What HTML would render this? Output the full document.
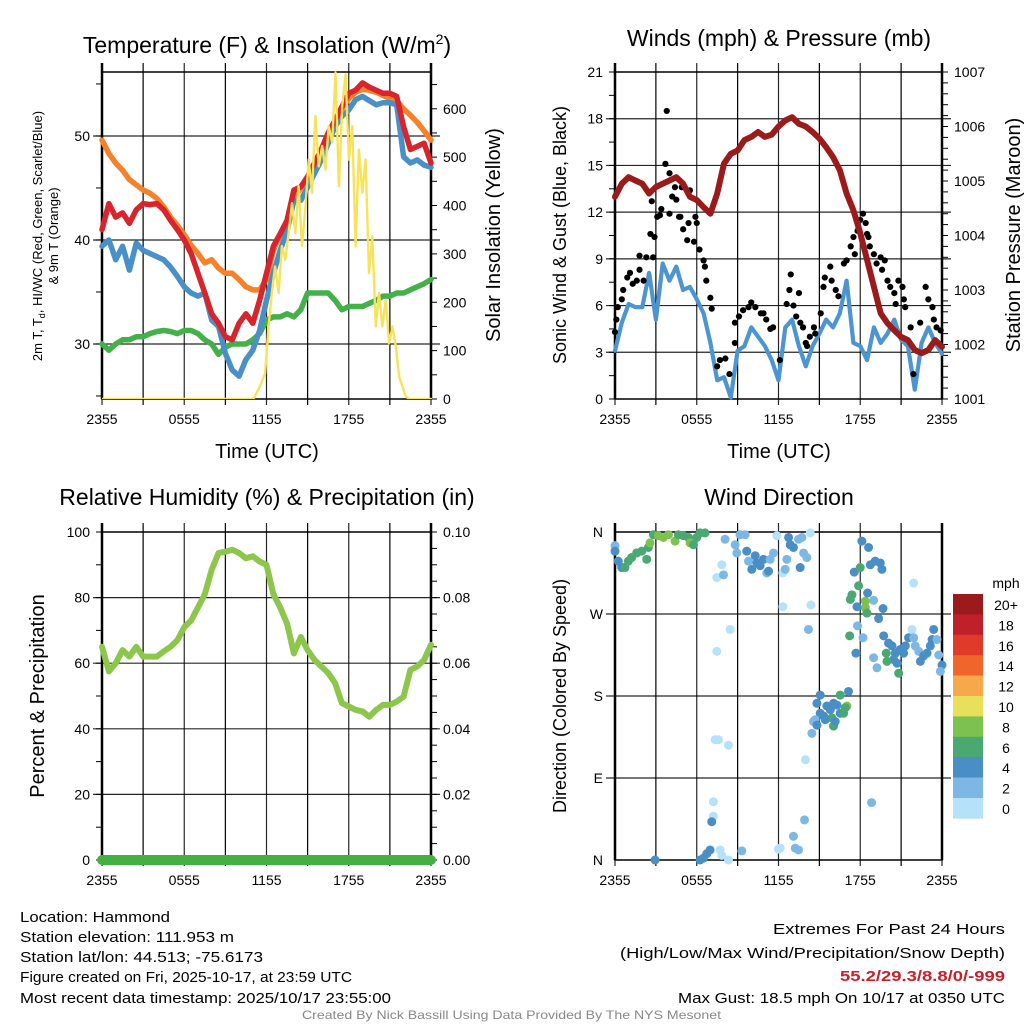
<!DOCTYPE html>
<html><head><meta charset="utf-8"><title>Hammond Meteogram</title>
<style>
html,body{margin:0;padding:0;background:#fff;}
svg{display:block;font-family:"Liberation Sans",Arial,sans-serif;}
</style></head>
<body>
<svg id="chart" xmlns="http://www.w3.org/2000/svg" width="1024" height="1024" viewBox="0 0 1024 1024">
<rect x="0" y="0" width="1024" height="1024" fill="#fff"/>
<text x="267" y="53" font-size="23" text-anchor="middle">Temperature (F) &amp; Insolation (W/m<tspan dy="-9" font-size="14">2</tspan><tspan dy="9">)</tspan></text>
<text x="779" y="46" font-size="23" text-anchor="middle">Winds (mph) &amp; Pressure (mb)</text>
<text x="267" y="505" font-size="23" text-anchor="middle">Relative Humidity (%) &amp; Precipitation (in)</text>
<text x="779" y="505" font-size="23" text-anchor="middle">Wind Direction</text>
<text x="267" y="458" font-size="20" text-anchor="middle">Time (UTC)</text>
<text x="779" y="458" font-size="20" text-anchor="middle">Time (UTC)</text>
<text transform="translate(42,236) rotate(-90)" font-size="13" text-anchor="middle">2m T, T<tspan font-size="9" dy="3">d</tspan><tspan dy="-3">, HI/WC (Red, Green, Scarlet/Blue)</tspan></text>
<text transform="translate(58,236) rotate(-90)" font-size="13" text-anchor="middle">&amp; 9m T (Orange)</text>
<text transform="translate(500,235) rotate(-90)" font-size="20" text-anchor="middle">Solar Insolation (Yellow)</text>
<text transform="translate(566,235) rotate(-90)" font-size="18" text-anchor="middle">Sonic Wind &amp; Gust (Blue, Black)</text>
<text transform="translate(1020,235) rotate(-90)" font-size="20" text-anchor="middle">Station Pressure (Maroon)</text>
<text transform="translate(44,696) rotate(-90)" font-size="20" text-anchor="middle">Percent &amp; Precipitation</text>
<text transform="translate(566,696) rotate(-90)" font-size="18" text-anchor="middle">Direction (Colored By Speed)</text>
<text x="1006" y="588" font-size="14" text-anchor="middle">mph</text>
<g font-size="15">
<text x="20" y="922" textLength="150" lengthAdjust="spacingAndGlyphs">Location: Hammond</text>
<text x="20" y="942" textLength="214" lengthAdjust="spacingAndGlyphs">Station elevation: 111.953 m</text>
<text x="20" y="962" textLength="243" lengthAdjust="spacingAndGlyphs">Station lat/lon: 44.513; -75.6173</text>
<text x="20" y="982" textLength="332" lengthAdjust="spacingAndGlyphs">Figure created on Fri, 2025-10-17, at 23:59 UTC</text>
<text x="20" y="1003" textLength="371" lengthAdjust="spacingAndGlyphs">Most recent data timestamp: 2025/10/17 23:55:00</text>
</g>
<g font-size="15">
<text x="773" y="934" textLength="232" lengthAdjust="spacingAndGlyphs">Extremes For Past 24 Hours</text>
<text x="620" y="958" textLength="385" lengthAdjust="spacingAndGlyphs">(High/Low/Max Wind/Precipitation/Snow Depth)</text>
<text x="840" y="981" textLength="165" lengthAdjust="spacingAndGlyphs" fill="#c8202a" font-weight="bold">55.2/29.3/8.8/0/-999</text>
<text x="678" y="1003" textLength="327" lengthAdjust="spacingAndGlyphs">Max Gust: 18.5 mph On 10/17 at 0350 UTC</text>
</g>
<text x="302" y="1019" font-size="12" fill="#888" textLength="419" lengthAdjust="spacingAndGlyphs">Created By Nick Bassill Using Data Provided By The NYS Mesonet</text>
<g id="plots"></g>
</svg>
<script>
const xTickLabels = ["2355","0555","1155","1755","2355"];
const tempOrange = [49.6,48.3,47.4,46.7,45.8,45.3,44.8,44.5,44.0,43.2,42.2,41.4,40.5,39.5,38.7,37.8,38.1,37.3,36.8,36.8,36.2,35.5,35.2,35.2,36.2,39.0,40.5,41.8,44.0,45.0,46.0,47.3,48.6,50.2,51.4,52.6,53.6,54.2,54.5,54.4,54.2,53.9,53.6,53.4,52.6,52.0,51.3,50.5,49.6];
const tempRed = [41.0,43.5,42.2,42.6,41.6,42.9,43.5,43.4,43.5,42.9,41.9,41.0,40.0,38.7,36.8,34.9,32.9,32.0,30.7,30.4,32.0,32.9,32.0,34.2,36.8,39.4,40.6,41.9,44.8,45.1,46.1,47.4,48.7,50.3,51.5,52.8,54.1,54.4,55.1,54.7,54.4,54.1,54.1,53.8,50.9,48.7,49.0,49.3,47.4];
const tempBlue = [39.4,40.0,38.1,39.4,37.1,39.7,39.0,38.7,38.4,38.1,37.4,36.5,35.5,34.9,34.6,34.9,32.3,31.7,29.1,27.5,26.9,28.5,29.4,31.3,34.2,36.8,39.0,40.9,43.8,43.8,45.1,46.4,47.7,49.3,50.9,51.9,52.5,53.5,53.8,53.4,53.0,53.2,53.2,53.0,48.0,47.4,47.7,47.2,47.0];
const dewGreen = [30.0,29.4,30.0,30.4,30.4,30.7,30.7,31.0,31.2,31.3,31.2,31.0,31.3,31.3,31.0,30.4,30.0,29.0,29.7,30.0,30.0,30.0,30.4,31.0,32.3,32.6,32.6,32.9,32.6,33.3,34.9,34.9,34.9,34.9,34.2,33.3,33.6,33.6,33.6,33.9,34.2,34.6,34.6,34.9,34.9,35.2,35.5,35.8,36.2];
const solarHours = [0,11.05,11.5,11.9,12.15,12.39,12.63,12.88,13.12,13.37,13.61,13.86,14.1,14.34,14.59,14.83,15.08,15.32,15.57,15.81,16.06,16.3,16.54,16.79,17.03,17.28,17.52,17.77,18.01,18.26,18.5,18.74,18.99,19.23,19.48,19.72,19.97,20.21,20.45,20.7,20.94,21.19,21.43,21.68,21.92,22.17,22.41,24];
const solarWm2 = [0,0,25,53,150,219,274,219,316,288,343,405,343,440,316,392,495,426,585,481,523,474,564,530,675,440,605,671,495,564,316,516,426,495,260,336,150,219,150,205,115,150,108,46,25,5,0,0];
const windSpeed = [3.1,4.9,6.1,5.9,5.9,8.1,5.1,8.7,7.6,8.5,7.0,7.2,6.4,5.5,3.6,1.2,1.4,0.1,3.1,3.4,4.6,4.0,3.4,2.5,1.2,4.6,5.1,3.4,2.1,3.4,4.2,5.1,4.6,5.5,7.6,3.6,3.4,2.5,4.6,3.6,4.2,5.1,3.8,3.4,0.6,3.6,4.6,3.6,2.9];
const pressureMb = [1004.71,1004.95,1005.07,1005.01,1004.95,1004.77,1004.89,1004.95,1005.01,1005.07,1004.95,1004.71,1004.65,1004.52,1004.40,1004.77,1005.32,1005.50,1005.56,1005.75,1005.81,1005.90,1005.81,1005.85,1006.00,1006.11,1006.17,1006.05,1006.00,1005.90,1005.78,1005.62,1005.44,1005.20,1004.77,1004.46,1004.04,1003.55,1003.06,1002.57,1002.39,1002.26,1002.14,1002.08,1001.90,1001.84,1001.90,1002.08,1001.96];
const gustHours = [0.0,0.1,0.2,0.5,0.6,0.9,1.1,1.3,1.6,1.8,1.8,2.1,2.3,2.6,2.7,2.8,2.9,3.1,3.3,3.4,3.7,3.8,4.0,4.0,4.2,4.4,4.5,4.7,4.8,4.9,5.0,5.3,5.4,5.5,5.8,5.9,6.0,6.2,6.5,6.6,6.7,7.0,7.1,7.5,7.7,8.1,8.4,8.8,8.8,9.1,9.4,9.8,10.0,10.3,10.7,10.9,11.1,11.4,11.6,12.1,12.6,12.8,12.9,13.1,13.3,13.5,13.6,13.8,14.0,14.1,14.3,14.6,14.7,15.1,15.3,15.4,15.8,15.9,16.2,16.4,16.8,17.0,17.3,17.5,17.6,17.8,18.0,18.2,18.4,18.5,18.6,18.7,19.0,19.2,19.5,19.6,19.8,20.0,20.2,20.5,20.6,20.8,21.1,21.2,21.3,21.7,21.9,22.4,22.8,23.0,23.3,23.4,23.6,23.9];
const gustMph = [4.3,5.1,5.9,6.4,7.0,7.8,8.1,7.4,7.6,8.3,9.2,7.6,9.1,10.6,12.7,9.1,10.4,11.7,11.8,12.2,15.1,18.5,14.5,11.9,13.0,13.6,12.8,11.7,11.7,13.6,10.9,10.2,11.3,13.4,10.1,11.7,11.3,9.6,8.9,8.5,7.6,6.5,5.8,2.1,2.5,2.6,1.6,3.6,4.9,5.3,5.7,5.9,6.2,5.9,5.5,5.5,5.1,4.5,4.6,2.5,6.1,7.0,8.0,6.0,5.3,6.8,4.9,4.6,3.6,3.4,4.0,4.6,4.2,5.5,7.2,7.8,8.5,7.6,7.0,6.6,8.7,8.9,9.8,10.4,9.3,10.8,11.5,11.9,11.3,10.6,10.4,9.8,9.3,8.7,9.1,8.3,8.9,7.6,7.2,6.8,6.1,7.6,7.2,6.4,5.9,4.6,1.6,4.9,7.2,6.4,5.9,5.1,4.6,4.4];
const rhPercent = [65,57.5,60,64,62,65,62,62,62,63.6,65,67,71,73,77,81,88.5,93.6,94,94.6,93.6,92,92.6,91,90,81,77,72,63,68,64,61,59,57,54,47.8,46.8,45.8,45.3,43.7,45.8,47.3,47.3,48.3,49.8,58,59,61,65.6];
const precipIn = [0,0,0,0,0,0,0,0,0,0,0,0,0,0,0,0,0,0,0,0,0,0,0,0,0,0,0,0,0,0,0,0,0,0,0,0,0,0,0,0,0,0,0,0,0,0,0,0,0];
const dirHours = [0,0,0.24,0.49,0.73,0.98,1.22,1.59,1.96,2.33,2.45,2.57,2.82,3.18,3.55,3.92,4.41,4.65,5.02,5.39,5.51,5.76,6.0,6.25,6.61,7.47,7.84,7.96,8.08,8.45,7.47,7.35,7.59,8.33,7.22,7.22,7.1,7.71,7.84,8.33,9.31,6.25,6.49,6.74,6.98,2.94,8.82,8.94,9.18,9.55,9.67,9.8,10.04,10.29,10.41,10.65,10.9,11.14,11.27,11.39,11.63,11.88,12.32,12.49,12.61,12.74,12.86,13.1,13.47,13.72,13.84,14.08,13.59,14.33,12.32,14.38,14.2,18.12,18.61,18.74,19.1,19.47,19.59,17.56,18.0,17.88,17.39,17.27,18.37,18.37,18.49,17.76,18.98,18.54,19.67,19.35,17.22,17.8,18.2,17.68,18.98,19.23,19.72,20.08,20.33,20.57,20.45,20.7,20.94,21.18,21.31,21.55,21.8,21.92,22.04,22.29,22.41,22.65,22.9,23.14,23.27,23.39,23.63,23.76,24.0,23.88,19.91,19.96,20.82,21.92,15.06,14.82,15.06,14.7,14.57,14.82,14.45,15.55,15.8,16.04,16.29,16.53,16.78,17.02,16.9,16.53,17.14,15.92,16.04,16.16,15.31,15.43,13.98,18.83,13.91,13.1,13.23,13.47,12.12,12.0];
const dirDegrees = [345,339,328,321,321,328,332,337,339,330,343,348,357,356,354,357,350,357,356,354,348,346,354,359,359,310,324,313,352,253,229,132,132,126,64,48,42,11,5,0,10,0,2,7,11,0,346,337,357,357,339,328,319,334,326,323,330,315,317,330,337,356,315,319,330,354,346,343,352,354,337,332,321,359,278,280,253,350,343,324,328,326,319,316,321,301,291,286,284,277,271,278,285,293,276,265,246,257,244,227,222,211,246,238,235,227,220,216,231,227,235,244,253,244,235,229,218,224,227,235,242,253,242,225,214,207,227,218,205,304,181,172,161,154,152,148,139,169,165,172,170,161,161,169,167,181,185,156,147,152,158,154,110,63,44,26,13,11,13,12];
const dirSpeed = [3,5,5,5,7,7,7,7,7,7,7,9,7,9,9,9,9,7,7,7,9,7,7,7,7,1,1,3,3,1,1,1,1,1,1,1,5,1,1,1,3,5,5,5,5,5,3,3,3,3,5,3,5,5,5,5,5,3,5,3,3,1,1,3,3,5,5,5,3,3,3,3,5,1,1,1,3,5,5,5,5,5,5,5,7,7,7,7,9,9,7,5,3,5,5,5,7,3,3,5,3,3,5,5,5,5,5,5,5,5,5,5,1,3,3,3,5,5,5,5,5,5,3,3,5,3,7,7,7,1,5,5,5,3,3,5,3,5,5,5,5,5,7,9,7,7,5,7,7,5,5,5,1,3,3,3,3,3,1,1];
const speedBins = ["0","2","4","6","8","10","12","14","16","18","20+"];
const speedColors = ["#b5e2f8","#7db8e4","#4a8ec6","#4aa872","#7dc24e","#e8e05a","#f6a84a","#f0652a","#e03a2a","#c0202a","#9b1a1d"];

const NS = "http://www.w3.org/2000/svg";
const root = document.getElementById("plots");
function mk(tag, attrs, parent) {
  const e = document.createElementNS(NS, tag);
  for (const k in attrs) e.setAttribute(k, attrs[k]);
  (parent || root).appendChild(e);
  return e;
}
const halfHours = tempRed.map((v, i) => i * 0.5);
const P1 = {x0:102, x1:431, y0:72, y1:399};
const P2 = {x0:615, x1:942, y0:72, y1:399};
const P3 = {x0:102, x1:431, y0:532, y1:860};
const P4 = {x0:615, x1:942, y0:532, y1:860};
const xScale = P => (t => P.x0 + t / 24 * (P.x1 - P.x0));
const linScale = (P, lo, hi) => (v => P.y1 - (v - lo) / (hi - lo) * (P.y1 - P.y0));
const x1s = xScale(P1), x2s = xScale(P2), x3s = xScale(P3), x4s = xScale(P4);
const yTemp = linScale(P1, 24.71, 56.15);
const ySolar = linScale(P1, 0, 676);
const yWind = linScale(P2, 0, 21);
const yPres = linScale(P2, 1001, 1007);
const yRH = linScale(P3, 0, 100);
const yPrecip = linScale(P3, 0, 0.1);
const yDir = linScale(P4, 0, 360);

function gridAndFrame(P, name, hVals, yFn) {
  const g = mk("g", {});
  
  
  for (let h = 0; h <= 24; h += 3) {
    const x = xScale(P)(h);
    const l = mk("line", {x1:x, x2:x, y1:P.y0 - 9, y2:P.y1 + 6, stroke:"#000", "stroke-width":1.2, "stroke-opacity":(h % 6 === 0 ? 0.85 : 1)}, g);
    
    
  }
  hVals.forEach(v => {
    const y = yFn(v);
    const l = mk("line", {x1:P.x0 - 9, x2:P.x1 + 9, y1:y, y2:y, stroke:"#000", "stroke-width":1.2, "stroke-opacity":0.85}, g);
    
    
  });
  const f = mk("rect", {x:P.x0, y:P.y0, width:P.x1 - P.x0, height:P.y1 - P.y0, fill:"none", stroke:"#000", "stroke-width":1.5}, g);
  
  
  const la = mk("line", {x1:P.x0, x2:P.x0, y1:P.y0 - 9, y2:P.y1, stroke:"#000", "stroke-width":2.5}, g);
  
  
  const ra = mk("line", {x1:P.x1, x2:P.x1, y1:P.y0 - 9, y2:P.y1, stroke:"#000", "stroke-width":2.5}, g);
  
  
}
function minorTicks(P, vals, yFn, side, name) {
  vals.forEach(v => {
    const y = yFn(v);
    const x = side === 'left' ? P.x0 : P.x1;
    const d = side === 'left' ? -6 : 6;
    const t = mk("line", {x1:x, x2:x + d, y1:y, y2:y, stroke:"#000", "stroke-width":1});
    
    
  });
}
function tickLabels(P, vals, labels, yFn, side, name) {
  vals.forEach((v, i) => {
    const y = yFn(v);
    const x = side === 'left' ? P.x0 - 12 : P.x1 + 12;
    const t = mk("text", {x:x, y:y + 5, "font-size":14, "text-anchor":(side === 'left' ? "end" : "start")});
    t.textContent = labels[i];
    
    
  });
}
function xLabels(P, name) {
  xTickLabels.forEach((lab, i) => {
    const t = mk("text", {x:xScale(P)(i * 6), y:P.y1 + 25, "font-size":14, "text-anchor":"middle"});
    t.textContent = lab;
    
    
  });
}
function seriesPath(xs, ys, xFn, yFn, color, width, name) {
  let d = "";
  xs.forEach((t, i) => { d += (i ? "L" : "M") + xFn(t).toFixed(1) + "," + yFn(ys[i]).toFixed(1); });
  const p = mk("path", {d:d, fill:"none", stroke:color, "stroke-width":width, "stroke-linejoin":"round", "stroke-linecap":"round"});
  
  
  return p;
}
const range = (a, b, s) => { const r = []; for (let v = a; v <= b + 1e-9; v += s) r.push(+v.toFixed(4)); return r; };

gridAndFrame(P1, 'temperature', [30, 40, 50], yTemp);
minorTicks(P1, range(25, 55, 5), yTemp, 'left', 'temperature-left');
minorTicks(P1, range(0, 650, 50), ySolar, 'right', 'insolation-right');
tickLabels(P1, [30, 40, 50], ["30", "40", "50"], yTemp, 'left', 'temperature');
tickLabels(P1, [0, 100, 200, 300, 400, 500, 600], ["0", "100", "200", "300", "400", "500", "600"], ySolar, 'right', 'insolation');
xLabels(P1, 'temperature');
const clip1 = mk("clipPath", {id:"clip1"});
mk("rect", {x:P1.x0, y:P1.y0 - 2, width:P1.x1 - P1.x0 + 3, height:P1.y1 - P1.y0 + 2}, clip1);
seriesPath(halfHours, tempOrange, x1s, yTemp, "#f5822a", 5.5, 'orange-9m-temperature-line');
seriesPath(halfHours, dewGreen, x1s, yTemp, "#44b04a", 5.5, 'green-dewpoint-line');
seriesPath(halfHours, tempBlue, x1s, yTemp, "#4a90c8", 5.5, 'blue-windchill-line');
seriesPath(halfHours, tempRed, x1s, yTemp, "#d8242c", 5.5, 'red-2m-temperature-line');
seriesPath(solarHours, solarWm2, x1s, ySolar, "#f7e35a", 2.4, 'yellow-insolation-line').setAttribute('clip-path', 'url(#clip1)');

gridAndFrame(P2, 'wind', range(3, 18, 3), yWind);
minorTicks(P2, range(0, 21, 1.5), yWind, 'left', 'wind-left');
minorTicks(P2, range(1001, 1007, 0.2), yPres, 'right', 'pressure-right');
tickLabels(P2, range(0, 21, 3), range(0, 21, 3).map(String), yWind, 'left', 'wind');
tickLabels(P2, range(1001, 1007, 1), range(1001, 1007, 1).map(String), yPres, 'right', 'pressure');
xLabels(P2, 'wind');
seriesPath(halfHours, windSpeed, x2s, yWind, "#4d95d0", 4.2, 'sonic-wind-line');
gustHours.forEach((t, i) => {
  const c = mk("circle", {cx:x2s(t), cy:yWind(gustMph[i]), r:3.1, fill:"#000"});
  
  
});
seriesPath(halfHours, pressureMb, x2s, yPres, "#9b1b1b", 6, 'station-pressure-line');

gridAndFrame(P3, 'humidity', range(20, 80, 20), yRH);
minorTicks(P3, range(0, 100, 10), yRH, 'left', 'humidity-left');
minorTicks(P3, range(0, 0.1, 0.005), yPrecip, 'right', 'precip-right');
tickLabels(P3, range(0, 100, 20), range(0, 100, 20).map(String), yRH, 'left', 'humidity');
tickLabels(P3, range(0, 0.1, 0.02), range(0, 0.1, 0.02).map(v => v.toFixed(2)), yPrecip, 'right', 'precip');
xLabels(P3, 'humidity');
seriesPath(halfHours, rhPercent, x3s, yRH, "#8cc64a", 6, 'relative-humidity-line');
seriesPath(halfHours, precipIn, x3s, yPrecip, "#44b044", 10, 'precipitation-line');

gridAndFrame(P4, 'direction', [90, 180, 270], yDir);
const dirTickVals = [0, 90, 180, 270, 360];
const dirTickLabels = ["N", "E", "S", "W", "N"];
tickLabels(P4, dirTickVals, dirTickLabels, yDir, 'left', 'direction');
xLabels(P4, 'direction');
dirHours.forEach((t, i) => {
  const bin = Math.min(10, Math.floor(dirSpeed[i] / 2));
  const c = mk("circle", {cx:x4s(t), cy:yDir(dirDegrees[i]), r:4.5, fill:speedColors[bin]});
  
  
});

const cbX = 953, cbTop = 594, cbH = 20.4;
speedBins.forEach((lab, i) => {
  const idx = speedBins.length - 1 - i;
  const r = mk("rect", {x:cbX, y:cbTop + i * cbH, width:30, height:cbH + 0.3, fill:speedColors[idx]});
  
  
  const t = mk("text", {x:1006, y:cbTop + i * cbH + 16, "font-size":14, "text-anchor":"middle"});
  t.textContent = speedBins[idx];
  
  
});
</script>
</body></html>
